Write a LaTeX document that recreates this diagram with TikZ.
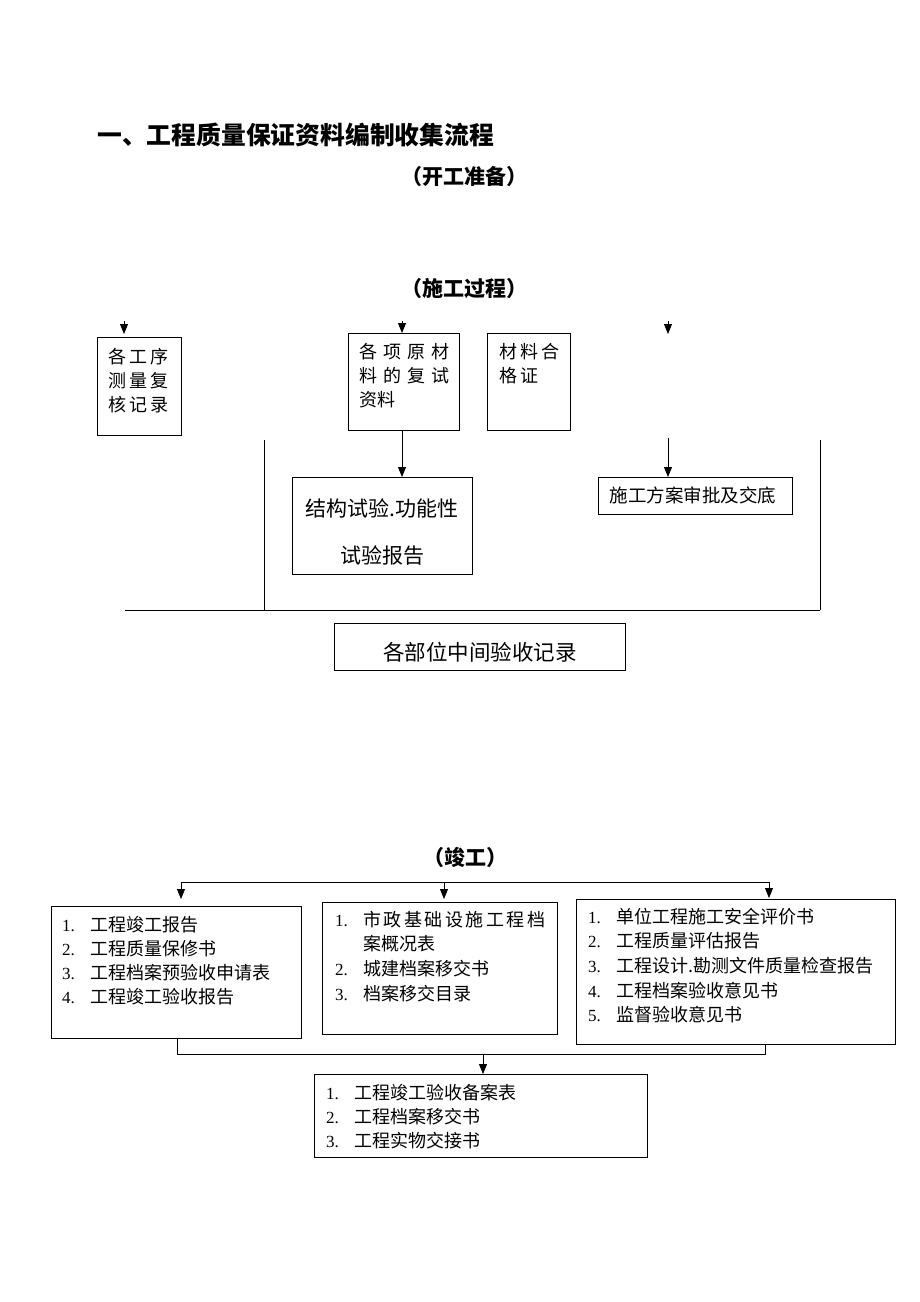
\documentclass[tikz,border=0pt]{standalone}
\usepackage{fontspec}
\setmainfont{Liberation Serif}
\newfontfamily\cjk{Noto Sans CJK SC}
\usetikzlibrary{arrows.meta}
\newcommand{\itm}[2]{\makebox[28pt][l]{\rmfamily\fontsize{17}{17}\selectfont #1.}#2}
\newcommand{\gapx}{\hspace{6pt}}
\begin{document}
\begin{tikzpicture}[x=1pt,y=-1pt,
  font=\cjk\fontsize{18}{22}\selectfont,
  box/.style={draw, line width=0.8pt, inner sep=0pt, anchor=north west},
  arr/.style={-{Triangle[length=10pt,width=8pt]}, line width=0.8pt},
  ln/.style={line width=0.8pt},
  t/.style={anchor=west, inner sep=0pt},
  hd/.style={inner sep=0pt, font=\cjk\bfseries\fontsize{21}{21}\selectfont}]
\useasboundingbox[fill=white] (0,0) rectangle (920,1302);

% headings
\node[t, font=\cjk\bfseries\fontsize{24.8}{25}\selectfont] (title) at (97,135) {一、工程质量保证资料编制收集流程};
\node[hd] (h1) at (464,177) {（开工准备）};
\node[hd] (h2) at (464,289) {（施工过程）};
\node[hd] (h3) at (465,857) {（竣工）};

% construction process boxes
\node[box, minimum width=84pt, minimum height=98pt] (b1) at (97,337) {};
\node[t] (b1t1) at (108,357) {各\hspace{3pt}工\hspace{3pt}序};
\node[t] (b1t2) at (108,381) {测\hspace{3pt}量\hspace{3pt}复};
\node[t] (b1t3) at (108,405) {核\hspace{3pt}记\hspace{3pt}录};

\node[box, minimum width=111pt, minimum height=97pt] (b2) at (348,333) {};
\node[t] (b2t1) at (359,352) {各\gapx 项\gapx 原\gapx 材};
\node[t] (b2t2) at (359,376) {料\gapx 的\gapx 复\gapx 试};
\node[t] (b2t3) at (359,400) {资料};

\node[box, minimum width=83pt, minimum height=97pt] (b3) at (487,333) {};
\node[t] (b3t1) at (499,352) {材\hspace{3pt}料\hspace{3pt}合};
\node[t] (b3t2) at (499,376) {格\hspace{3pt}证};

\node[box, minimum width=180pt, minimum height=97pt] (b4) at (292,477) {};
\node[inner sep=0pt, font=\cjk\fontsize{21}{21}\selectfont] (b4t1) at (382,508) {结构试验.功能性};
\node[inner sep=0pt, font=\cjk\fontsize{21}{21}\selectfont] (b4t2) at (382,556) {试验报告};

\node[box, minimum width=194pt, minimum height=37pt] (b5) at (598,477) {};
\node[inner sep=0pt, font=\cjk\fontsize{18.5}{19}\selectfont] (b5t) at (693,495) {施工方案审批及交底};

\node[box, minimum width=291pt, minimum height=47pt] (b6) at (334,623) {};
\node[inner sep=0pt, font=\cjk\fontsize{21.5}{21}\selectfont] (b6t) at (480,652) {各部位中间验收记录};

% arrows of construction process
\coordinate (a1s) at (124,321); \coordinate (a1e) at (124,334);
\draw[arr] (a1s) -- (a1e);
\coordinate (a2s) at (402,321);
\draw[arr] (a2s) -- (a2s |- b2.north);
\coordinate (a3s) at (668,321); \coordinate (a3e) at (668,334);
\draw[arr] (a3s) -- (a3e);
\draw[arr] (b2.south -| a2s) -- (a2s |- b4.north);
\coordinate (a4s) at (668,438);
\draw[arr] (a4s) -- (a4s |- b5.north);

% frame lines
\coordinate (v1t) at (264,440); \coordinate (v1b) at (264,610);
\coordinate (v2t) at (820,440); \coordinate (v2b) at (820,610);
\coordinate (hl) at (125,610);
\draw[ln] (v1t) -- (v1b);
\draw[ln] (v2t) -- (v2b);
\draw[ln] (hl) -- (v2b);

% completion boxes
\node[box, minimum width=250pt, minimum height=132pt] (b7) at (51,906) {};
\node[t] (b7t1) at (62,925) {\itm{1}{工程竣工报告}};
\node[t] (b7t2) at (62,949) {\itm{2}{工程质量保修书}};
\node[t] (b7t3) at (62,973) {\itm{3}{工程档案预验收申请表}};
\node[t] (b7t4) at (62,997) {\itm{4}{工程竣工验收报告}};

\node[box, minimum width=235pt, minimum height=132pt] (b8) at (322,902) {};
\node[t] (b8t1) at (335,920) {\itm{1}{市\hspace{2.5pt}政\hspace{2.5pt}基\hspace{2.5pt}础\hspace{2.5pt}设\hspace{2.5pt}施\hspace{2.5pt}工\hspace{2.5pt}程\hspace{2.5pt}档}};
\node[t] (b8t1b) at (363,944) {案概况表};
\node[t] (b8t2) at (335,969) {\itm{2}{城建档案移交书}};
\node[t] (b8t3) at (335,994) {\itm{3}{档案移交目录}};

\node[box, minimum width=319pt, minimum height=145pt] (b9) at (576,899) {};
\node[t] (b9t1) at (588,917) {\itm{1}{单位工程施工安全评价书}};
\node[t] (b9t2) at (588,941) {\itm{2}{工程质量评估报告}};
\node[t] (b9t3) at (588,966) {\itm{3}{工程设计.勘测文件质量检查报告}};
\node[t] (b9t4) at (588,991) {\itm{4}{工程档案验收意见书}};
\node[t] (b9t5) at (588,1015) {\itm{5}{监督验收意见书}};

\node[box, minimum width=333pt, minimum height=83pt] (b10) at (314,1074) {};
\node[t] (b10t1) at (326,1093) {\itm{1}{工程竣工验收备案表}};
\node[t] (b10t2) at (326,1117) {\itm{2}{工程档案移交书}};
\node[t] (b10t3) at (326,1141) {\itm{3}{工程实物交接书}};

% completion connectors
\coordinate (tL) at (181,882); \coordinate (tM) at (444,882); \coordinate (tR) at (769,882);
\draw[ln] (tL) -- (tR);
\draw[arr] (tL) -- (181,899) coordinate (tLe);
\draw[arr] (tM) -- (444,899) coordinate (tMe);
\draw[arr] (tR) -- (769,898) coordinate (tRe);

\coordinate (c1) at (177,1054); \coordinate (c2) at (765,1054); \coordinate (c3) at (483,1054);
\draw[ln] (b7.south -| c1) -- (c1) -- (c2) -- (b9.south -| c2);
\draw[arr] (c3) -- (c3 |- b10.north);
\end{tikzpicture}
\end{document}
